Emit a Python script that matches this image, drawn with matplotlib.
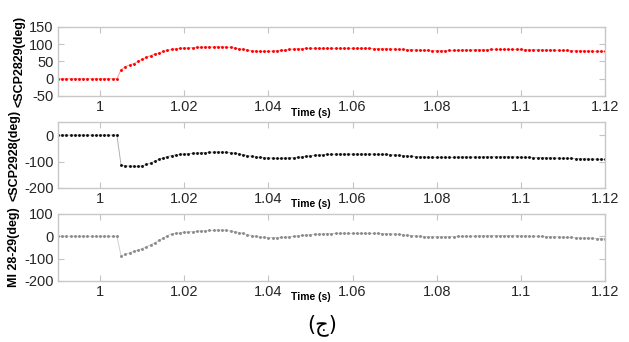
import numpy as np
import matplotlib
matplotlib.use("Agg")
import matplotlib.pyplot as plt

# sample times, 1 ms apart
time = np.linspace(0.99, 1.12, 131)

scp2829 = [0] * 15 + [
    26, 35, 40, 44, 50, 56, 62, 67, 72, 75,
    79, 82, 85, 87, 88, 89, 89, 90, 91, 91,
    92, 92, 92, 93, 92, 92, 91, 89, 87, 85,
    83, 81, 80, 79, 79, 79, 80, 81, 82, 83,
    85, 86, 87, 87, 88, 88,
    88, 88, 88, 88, 88, 88, 88, 88, 88, 88,
    88, 88, 88, 88, 87, 87, 87, 87, 86, 86,
    85, 85, 84, 84, 83, 83, 82, 82, 81, 81,
    81, 81, 82, 82, 82, 83, 83, 83, 84, 84,
    84, 84, 85, 85, 85, 85, 85, 85, 85, 85,
    84, 84, 84, 84, 83, 83, 83, 83, 82, 82,
    82, 81, 81, 81, 80, 80, 80, 79, 79, 79,
]

scp2928 = [0] * 15 + [
    -114, -116, -117, -118, -118, -116, -111, -105, -99, -91,
    -86, -81, -77, -75, -73, -72, -70, -69, -68, -67,
    -66, -65, -64, -64, -64, -65, -66, -68, -71, -74,
    -77, -80, -82, -84, -85, -86, -87, -88, -88, -87,
    -86, -85, -84, -82, -80, -78,
    -76, -75, -74, -73, -73, -72, -72, -72, -72, -72,
    -72, -72, -72, -72, -72, -73, -73, -73, -74, -75,
    -76, -77, -79, -80, -81, -82, -83, -84, -84, -84,
    -84, -84, -84, -84, -83, -83, -83, -83, -83, -83,
    -82, -82, -82, -82, -82, -82, -82, -82, -83, -84,
    -84, -84, -85, -85, -85, -86, -86, -87, -87, -88,
    -88, -88, -89, -89, -90, -90, -91, -91, -92, -92,
]

mi2829 = [0] * 15 + [
    -88, -80, -74, -68, -62, -55, -47, -38, -29, -18,
    -8, 3, 11, 14, 15, 18, 20, 21, 22, 24,
    25, 26, 27, 28, 27, 26, 24, 21, 17, 13,
    8, 3, 0, -3, -5, -6, -6, -6, -5, -4,
    -2, 0, 2, 4, 6, 8,
    9, 10, 11, 12, 12, 13, 13, 13, 13, 13,
    13, 13, 13, 13, 13, 13, 12, 12, 11, 10,
    9, 7, 5, 3, 2, 0, -1, -2, -2, -2,
    -2, -2, -1, -1, 0, 0, 1, 1, 1, 2,
    2, 2, 3, 3, 3, 3, 3, 3, 3, 2,
    2, 1, 1, 0, 0, -1, -2, -2, -3, -4,
    -5, -5, -6, -7, -8, -8, -9, -10, -11, -12,
]

series = [scp2829, scp2928, mi2829]
ylabels = ["<SCP2829(deg)", "<SCP2928(deg)", "MI 28-29(deg)"]
ylims = [(-50, 150), (-200, 50), (-200, 100)]
yticks = [[-50, 0, 50, 100, 150], [-200, -100, 0], [-200, -100, 0, 100]]
dot_colors = ["#ff0000", "#111111", "#8a8a8a"]
line_colors = ["#ff9a9a", "#b0b0b0", "#cfcfcf"]
xticks = [1, 1.02, 1.04, 1.06, 1.08, 1.1, 1.12]
xticklabels = ["1", "1.02", "1.04", "1.06", "1.08", "1.1", "1.12"]

plt.rcParams["font.family"] = ["Liberation Sans", "DejaVu Sans"]
plt.rcParams["axes.unicode_minus"] = False

fig = plt.figure(figsize=(6.29, 3.42), dpi=100)
# [left, bottom, width, height] for the three stacked panels
boxes = [
    [0.0922, 0.7193, 0.8696, 0.2018],
    [0.0922, 0.4503, 0.8696, 0.1930],
    [0.0922, 0.1784, 0.8696, 0.1960],
]

for i, box in enumerate(boxes):
    ax = fig.add_axes(box)
    ax.plot(time, series[i], color=line_colors[i], lw=0.7, zorder=1)
    ax.plot(time, series[i], ls="none", marker="o", ms=2.1,
            mec="none", mfc=dot_colors[i], zorder=2)
    ax.set_xlim(0.99, 1.12)
    ax.set_ylim(*ylims[i])
    ax.set_xticks(xticks)
    ax.set_xticklabels(xticklabels)
    ax.set_yticks(yticks[i])
    for sp in ax.spines.values():
        sp.set_color("#c8c8c8")
        sp.set_linewidth(1.0)
    ax.tick_params(direction="in", length=4, width=0.8, color="#c4c4c4",
                   top=True, right=True, labelsize=10.5, labelcolor="#262626",
                   pad=3)
    ax.set_ylabel(ylabels[i], fontsize=9, fontweight="bold", labelpad=3)
    # xlabel sits just beside the 1.04 tick label, like the original
    ax.text(1.05, -0.17, "Time (s)", transform=ax.get_xaxis_transform(),
            ha="center", va="top", fontsize=7.5, fontweight="bold")

fig.text(0.512, 0.05, "(ج)", ha="center", va="center", fontsize=15,
         family=["DejaVu Sans"])

fig.savefig("out.png", dpi=100)
